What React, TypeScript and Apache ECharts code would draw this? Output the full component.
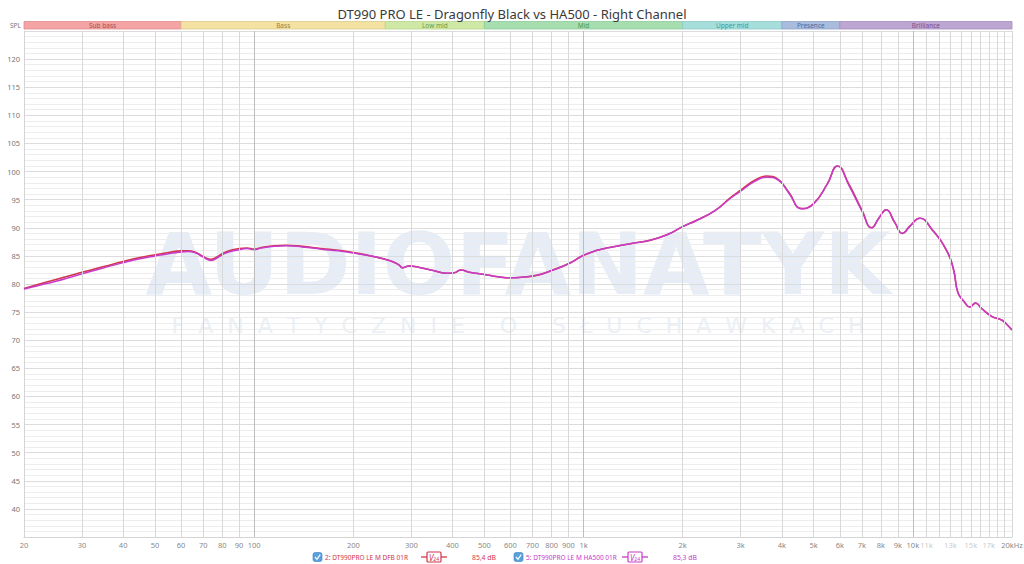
import React, { useEffect, useRef } from "react";
import * as echarts from "echarts";

const TITLE = "DT990 PRO LE - Dragonfly Black vs HA500 - Right Channel";

const freqs = [20, 22, 25, 28, 30, 35, 40, 45, 50, 55, 60, 63, 66, 70, 74, 78, 82, 90, 95, 100, 105, 115, 125, 140, 160, 180, 200, 230, 260, 275, 282, 295, 320, 350, 385, 405, 425, 450, 500, 550, 600, 650, 700, 750, 800, 900, 1000, 1100, 1200, 1400, 1600, 1800, 2000, 2200, 2500, 2800, 3000, 3300, 3600, 3900, 4200, 4600, 5000, 5500, 5900, 6400, 7000, 7500, 7900, 8300, 8800, 9300, 9800, 10500, 11400, 12700, 13300, 13700, 14300, 14900, 15500, 16200, 17400, 18600, 19300, 20000];

const dfbValues = [
  79.2, 79.9, 80.8, 81.6, 82.1,
  83.1, 84.0, 84.7, 85.2, 85.6,
  85.9, 85.9, 85.7, 84.9, 84.4,
  85.0, 85.7, 86.3, 86.4, 86.2,
  86.5, 86.8, 86.9, 86.7, 86.3,
  86.0, 85.6, 84.9, 84.1, 83.4,
  82.9, 83.2, 82.9, 82.4, 81.9,
  82.0, 82.5, 82.1, 81.7, 81.3,
  81.1, 81.2, 81.4, 81.8, 82.4,
  83.6, 85.1, 86.0, 86.5, 87.2,
  87.8, 88.8, 90.2, 91.3, 93.0,
  95.4, 96.7, 98.4, 99.2, 98.6,
  96.3, 93.4, 94.3, 97.8, 101.0,
  97.7, 93.2, 90.0, 91.8, 93.2,
  91.0, 89.0, 90.3, 91.7, 89.8,
  85.8, 82.5, 78.5, 76.9, 75.9,
  76.6, 75.6, 74.2, 73.6, 72.8,
  71.8,
];

const ha500Values = [
  79.1, 79.7, 80.5, 81.3, 81.8,
  82.9, 83.8, 84.5, 85.0, 85.4,
  85.7, 85.8, 85.6, 84.8, 84.2,
  84.8, 85.5, 86.1, 86.3, 86.1,
  86.4, 86.7, 86.8, 86.6, 86.2,
  85.9, 85.5, 84.9, 84.1, 83.4,
  82.9, 83.2, 82.9, 82.4, 81.9,
  82.0, 82.5, 82.1, 81.7, 81.3,
  81.1, 81.2, 81.4, 81.8, 82.4,
  83.6, 85.1, 86.0, 86.5, 87.2,
  87.8, 88.8, 90.2, 91.3, 93.0,
  95.3, 96.5, 98.2, 99.0, 98.5,
  96.2, 93.4, 94.3, 97.8, 101.0,
  97.5, 93.0, 90.0, 91.8, 93.2,
  91.0, 89.0, 90.3, 91.7, 89.8,
  85.8, 82.5, 78.5, 76.9, 75.9,
  76.6, 75.6, 74.2, 73.6, 72.8,
  71.8,
];

const seriesNames = ["2: DT990PRO LE M DFB 01R", "5: DT990PRO LE M HA500 01R"];
const seriesLevels = ["85,4 dB", "85,3 dB"];
const seriesColors = ["#d2364a", "#c83ac8"];

const gridFreqs = [30, 40, 50, 60, 70, 80, 90, 100, 200, 300, 400, 500, 600, 700, 800, 900, 1000, 2000, 3000, 4000, 5000, 6000, 7000, 8000, 9000, 10000, 11000, 12000, 13000, 14000, 15000, 16000, 17000, 18000, 19000, 20000];
const decadeFreqs = [100, 1000, 10000];

const xTickFreqs = [20, 30, 40, 50, 60, 70, 80, 90, 100, 200, 300, 400, 500, 600, 700, 800, 900, 1000, 2000, 3000, 4000, 5000, 6000, 7000, 8000, 9000, 10000, 11000, 13000, 15000, 17000, 20000];
const xTickLabels = ["20", "30", "40", "50", "60", "70", "80", "90", "100", "200", "300", "400", "500", "600", "700", "800", "900", "1k", "2k", "3k", "4k", "5k", "6k", "7k", "8k", "9k", "10k", "11k", "13k", "15k", "17k", "20kHz"];
const faintTicks = ["11k", "13k", "15k", "17k"];

const bandNames = ["Sub bass", "Bass", "Low mid", "Mid", "Upper mid", "Presence", "Brilliance"];
const bandEdges = [20, 60, 250, 500, 2000, 4000, 6000, 20000];
const bandFills = ["#f4a4a4", "#f4e2a2", "#cfe8a6", "#a6deb0", "#a6dedc", "#a9bcde", "#bea6d2"];
const bandBorders = ["#e08a8a", "#dcc98a", "#b5d58c", "#8ccb98", "#8cc9c6", "#8fa3c9", "#a58cbf"];
const bandText = ["#a85050", "#9a8040", "#6a9a48", "#3e9a5a", "#3e9a98", "#4f6a9a", "#7a5090"];

const FONT = "'Noto Sans', sans-serif";

function buildOption() {
  const legendGraphics: any[] = [];
  const legendX = [313, 514];
  seriesNames.forEach((name, i) => {
    const x0 = legendX[i];
    const c = seriesColors[i];
    const y = 557;
    legendGraphics.push(
      { type: "rect", shape: { x: x0, y: y - 4.5, width: 9, height: 9, r: 2 }, style: { fill: "#5aa0dc", stroke: "#3d80c0", lineWidth: 0.6 } },
      { type: "polyline", shape: { points: [[x0 + 2, y], [x0 + 4, y + 2.3], [x0 + 7.2, y - 2.3]] }, style: { stroke: "#fff", lineWidth: 1.2, fill: null } },
      { type: "text", x: x0 + 12, y, style: { text: name, fill: c, fontSize: 6.5, fontFamily: FONT, textVerticalAlign: "middle" } },
      { type: "line", shape: { x1: x0 + 108, y1: y, x2: x0 + 134, y2: y }, style: { stroke: c, lineWidth: 1.3 } },
      { type: "rect", shape: { x: x0 + 114, y: y - 5, width: 14, height: 10, r: 1 }, style: { fill: "#fff", stroke: c, lineWidth: 1.2 } },
      {
        type: "text", x: x0 + 121, y: y + 0.5,
        style: {
          text: "{v|V}{s|24}", fill: c, textAlign: "center", textVerticalAlign: "middle",
          rich: { v: { fontSize: 8, fontStyle: "italic", fill: c, fontFamily: FONT }, s: { fontSize: 5, fill: c, fontFamily: FONT, padding: [3, 0, 0, 0] } },
        },
      },
      { type: "text", x: x0 + 159, y, style: { text: seriesLevels[i], fill: c, fontSize: 6.8, fontFamily: FONT, textVerticalAlign: "middle" } },
    );
  });

  const bandData = bandNames.map((name, i) => [
    {
      name,
      xAxis: bandEdges[i],
      itemStyle: { color: bandFills[i], borderColor: bandBorders[i], borderWidth: 0.8 },
      label: { color: bandText[i] },
    },
    { xAxis: bandEdges[i + 1] },
  ]);

  return {
    animation: false,
    backgroundColor: "#ffffff",
    textStyle: { fontFamily: FONT },
    title: {
      text: TITLE,
      left: "center",
      top: 2,
      textStyle: { fontSize: 13, fontWeight: "normal", color: "#3a3a3a", fontFamily: FONT },
    },
    graphic: [
      {
        type: "text", x: 518, y: 264, z: -10, silent: true,
        style: { text: "AUDIOFANATYK", fontSize: 86, lineHeight: 62, fontWeight: "bold", fontFamily: "'DejaVu Sans', sans-serif", fill: "#e6edf6", textAlign: "center", textVerticalAlign: "middle" },
      },
      {
        type: "text", x: 518, y: 325, z: -10, silent: true,
        style: { text: "F  A  N  A  T  Y  C  Z  N  I  E     O     S  Ł  U  C  H  A  W  K  A  C  H", fontSize: 22, lineHeight: 18, fontFamily: "'DejaVu Sans', sans-serif", fill: "#ebf0f6", textAlign: "center", textVerticalAlign: "middle" },
      },
      { type: "text", x: 10, y: 25.5, style: { text: "SPL", fontSize: 6.5, fill: "#777", fontFamily: FONT, textVerticalAlign: "middle" } },
      ...legendGraphics,
    ],
    grid: [
      { left: 24, right: 12, top: 31, bottom: 27 },
      { left: 24, right: 12, top: 21.5, height: 7.5 },
    ],
    xAxis: [
      {
        type: "log", logBase: 10, min: 20, max: 20000, gridIndex: 0,
        axisLine: { show: true, lineStyle: { color: "#d4d4d4" } },
        axisTick: { show: false }, axisLabel: { show: false }, splitLine: { show: false },
      },
      {
        type: "log", logBase: 10, min: 20, max: 20000, gridIndex: 1,
        axisLine: { show: false }, axisTick: { show: false }, axisLabel: { show: false }, splitLine: { show: false },
      },
    ],
    yAxis: [
      {
        type: "value", min: 35, max: 125, interval: 5, gridIndex: 0,
        axisLine: { show: true, lineStyle: { color: "#d4d4d4" } },
        axisTick: { show: false },
        axisLabel: {
          fontSize: 7.5, color: "#777", margin: 4, fontFamily: FONT,
          formatter: (v: number) => (v <= 35 || v >= 125 ? "" : String(v)),
        },
        splitLine: { show: true, lineStyle: { color: "#dcdcdc", width: 1 } },
        minorTick: { show: false, splitNumber: 5 },
        minorSplitLine: { show: true, lineStyle: { color: "#ededed", width: 1 } },
      },
      {
        type: "value", min: 0, max: 1, gridIndex: 1, show: false,
        splitLine: { show: false },
      },
    ],
    series: [
      {
        type: "line", xAxisIndex: 1, yAxisIndex: 1, silent: true,
        data: [[20, 0], [20000, 0]], showSymbol: false, lineStyle: { opacity: 0 },
        markArea: {
          silent: true,
          label: { show: true, position: "inside", fontSize: 6.5, fontFamily: FONT },
          data: bandData,
        },
      },
      {
        type: "line", xAxisIndex: 0, yAxisIndex: 0, silent: true, z: 1,
        data: [], showSymbol: false,
        markLine: {
          silent: true, symbol: ["none", "none"], label: { show: false },
          data: gridFreqs.map((f) => ({
            xAxis: f,
            lineStyle: { color: decadeFreqs.includes(f) ? "#bdbdbd" : "#d8d8d8", width: 1, type: "solid" },
          })),
        },
      },
      {
        type: "scatter", xAxisIndex: 0, yAxisIndex: 0, silent: true, clip: false, z: 1,
        symbolSize: 1, itemStyle: { color: "rgba(0,0,0,0)" },
        label: { show: true, color: "#666666" },
        data: xTickFreqs.map((f, i) => ({
          value: [f, 35],
          label: {
            show: true, position: "bottom", distance: 3, fontSize: 7.5, fontFamily: FONT,
            color: faintTicks.includes(xTickLabels[i]) ? "#bbbbbb" : "#666666",
            formatter: () => xTickLabels[i],
          },
        })),
      },
      {
        name: seriesNames[0], type: "line", xAxisIndex: 0, yAxisIndex: 0, z: 3,
        data: freqs.map((f, i) => [f, dfbValues[i]]),
        smooth: 0.5, showSymbol: false,
        lineStyle: { color: seriesColors[0], width: 1.6 },
      },
      {
        name: seriesNames[1], type: "line", xAxisIndex: 0, yAxisIndex: 0, z: 4,
        data: freqs.map((f, i) => [f, ha500Values[i]]),
        smooth: 0.5, showSymbol: false,
        lineStyle: { color: seriesColors[1], width: 1.5 },
      },
    ],
  };
}

export default function App() {
  const ref = useRef<HTMLDivElement>(null);
  useEffect(() => {
    if (!ref.current) return;
    const chart = echarts.init(ref.current, null, { renderer: "svg" });
    chart.setOption(buildOption() as any);
    return () => chart.dispose();
  }, []);
  return (
    <div
      ref={ref}
      style={{ position: "absolute", left: 0, top: 0, width: 1024, height: 564, background: "#fff" }}
    />
  );
}
